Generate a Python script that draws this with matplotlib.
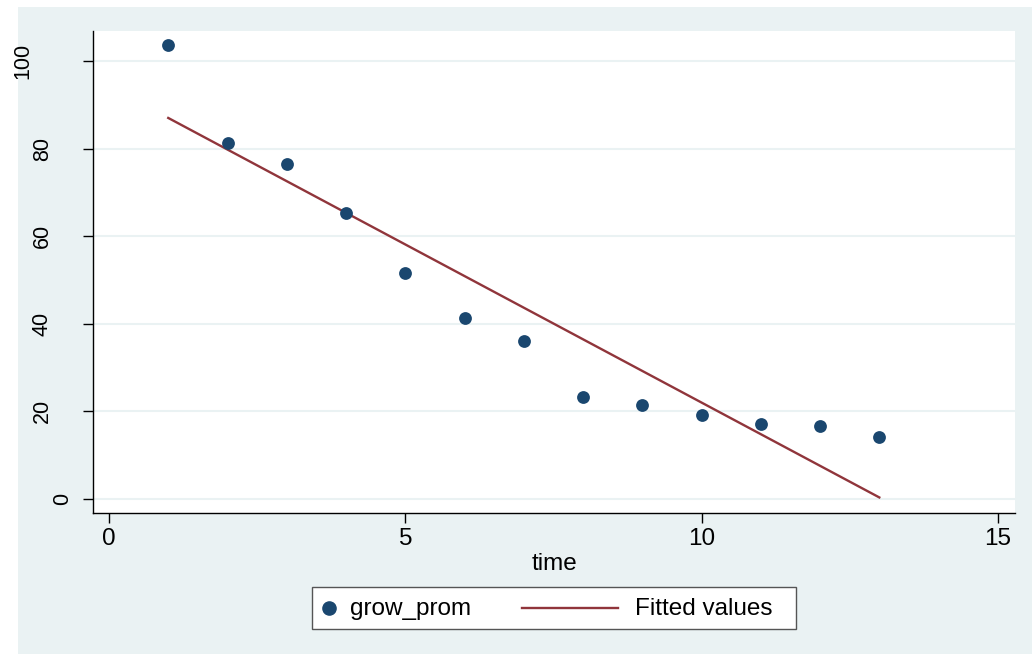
import matplotlib
matplotlib.use("Agg")
import matplotlib.pyplot as plt
import numpy as np
from matplotlib.patches import Rectangle
from matplotlib.lines import Line2D
from matplotlib.transforms import offset_copy

time = [1, 2, 3, 4, 5, 6, 7, 8, 9, 10, 11, 12, 13]
grow_prom = [103.7, 81.3, 76.5, 65.3, 51.6, 41.3, 36.1, 23.3, 21.5, 19.2, 17.1, 16.7, 14.2]
x_ticks = [0, 5, 10, 15]
y_ticks = [0, 20, 40, 60, 80, 100]
series_names = ['grow_prom', 'Fitted values']

plt.rcParams['font.family'] = ['Liberation Sans', 'DejaVu Sans']

W, H = 1032, 654
fig = plt.figure(figsize=(W / 100, H / 100), dpi=100, facecolor='white')
bg = '#EAF2F3'
navy = '#1a476f'
maroon = '#90353b'


def fx(px):
    return px / W


def fy(py):
    return 1 - py / H


fig.patches.append(Rectangle((fx(18), 0), 1 - fx(18), fy(7), transform=fig.transFigure,
                             facecolor=bg, edgecolor='none', zorder=-10))

ax = fig.add_axes([fx(93), fy(513), (1015 - 93) / W, (513 - 31) / H])
ax.set_facecolor('white')

coef = np.polyfit(time, grow_prom, 1)
xs = np.array([time[0], time[-1]])
fit = np.polyval(coef, xs)

ax.scatter(time, grow_prom, s=85, color=navy, zorder=3, linewidths=0)
ax.plot(xs, fit, color=maroon, lw=1.7, zorder=2)

ax.set_xlim(-0.27, 15.29)
ax.set_ylim(-3.2, 106.85)
ax.set_xticks(x_ticks)
ax.set_yticks(y_ticks)
ax.set_yticklabels([])
ax.grid(axis='y', color=bg, lw=1.5)
ax.set_axisbelow(True)
for s in ['top', 'right']:
    ax.spines[s].set_visible(False)
for s in ['left', 'bottom']:
    ax.spines[s].set_color('black')
    ax.spines[s].set_linewidth(1.0)
ax.tick_params(axis='x', direction='out', length=7, width=1, labelsize=17.5, colors='black', pad=4)
ax.tick_params(axis='y', direction='out', length=7.3, width=1, colors='black')

# rotated y tick labels, placed Stata-style (offset depends on label length)
for v in y_ticks:
    s = str(v)
    dx = -(10.5 + 20 * len(s))
    tr = offset_copy(ax.get_yaxis_transform(), fig=fig, x=dx, y=0, units='dots')
    ax.text(0, v, s, transform=tr, rotation=90, ha='center', va='center',
            fontsize=15.5, color='black', clip_on=False)

ax.set_xlabel('time', fontsize=17.5, labelpad=2)

# legend box
fig.patches.append(Rectangle((fx(312), fy(629)), (796 - 312) / W, (629 - 587) / H,
                             transform=fig.transFigure, facecolor='white',
                             edgecolor='#555555', lw=1.0, zorder=5))
fig.add_artist(Line2D([fx(329)], [fy(608)], marker='o', markersize=9.5, color=navy,
                      linestyle='none', transform=fig.transFigure, zorder=6))
fig.text(fx(350), fy(609), series_names[0], fontsize=17.5, va='center', ha='left', zorder=6)
fig.add_artist(Line2D([fx(522), fx(618)], [fy(608), fy(608)], color=maroon, lw=1.7,
                      transform=fig.transFigure, zorder=6))
fig.text(fx(635), fy(609), series_names[1], fontsize=17.5, va='center', ha='left', zorder=6)

fig.savefig('out.png', dpi=100, facecolor='white')
